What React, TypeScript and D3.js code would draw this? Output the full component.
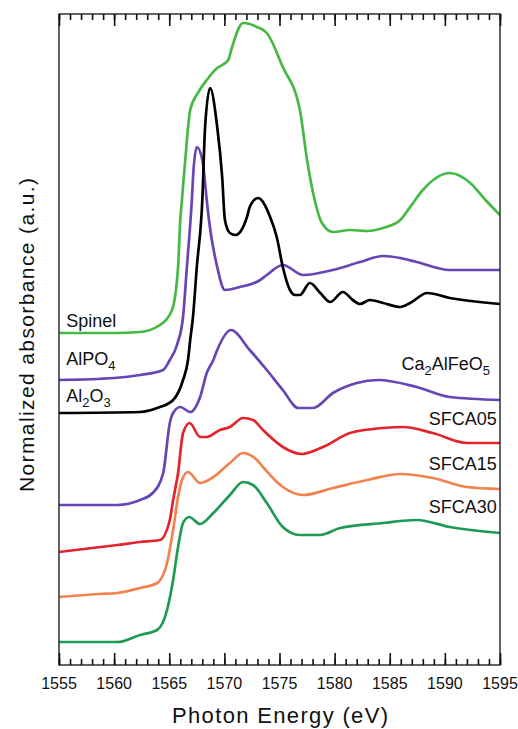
import React, { useEffect, useRef } from "react";
import * as d3 from "d3";

const W = 518;
const H = 729;
const M = { left: 59, right: 500, top: 14, bottom: 665 };

// [photon energy (eV), normalized absorbance (offset, a.u.)]
const spinel: [number, number][] = [
  [1555, 3.32], [1560, 3.32], [1562.35, 3.33], [1564.15, 3.4], [1565.25, 3.55],
  [1565.8, 3.98], [1566.0, 4.45], [1566.15, 4.65], [1566.45, 5.05], [1566.9, 5.55],
  [1567.6, 5.72], [1568.4, 5.85], [1569.35, 5.97], [1569.8, 6.0], [1570.35, 6.05],
  [1570.7, 6.18], [1571.7, 6.42], [1572.3, 6.41], [1572.95, 6.38], [1573.85, 6.32],
  [1575.3, 5.98], [1576.85, 5.55], [1577.5, 5.05], [1578.05, 4.72], [1578.85, 4.42],
  [1579.85, 4.33], [1581.4, 4.35], [1582.95, 4.34], [1584.4, 4.37], [1585.95, 4.45],
  [1586.85, 4.58], [1588.0, 4.75], [1590.45, 4.92], [1592.3, 4.82], [1593.6, 4.66], [1595, 4.5],
];

const alpo4: [number, number][] = [
  [1555, 2.85], [1560, 2.87], [1562.35, 2.9], [1564.45, 2.95], [1565.05, 3.05],
  [1565.7, 3.2], [1566.25, 3.48], [1566.6, 3.98], [1567.05, 4.65], [1567.2, 4.95],
  [1567.5, 5.18], [1568.0, 5.05], [1568.4, 4.65], [1568.6, 4.45], [1569.35, 3.98],
  [1570.05, 3.75], [1571.4, 3.78], [1573.25, 3.85], [1573.85, 3.9], [1575.3, 4.0],
  [1577.15, 3.9], [1579.85, 3.95], [1582.3, 4.03], [1584.4, 4.09], [1585.95, 4.07],
  [1587.45, 4.03], [1590.45, 3.95], [1595, 3.95],
];

const al2o3: [number, number][] = [
  [1555, 2.52], [1562.35, 2.53], [1563.9, 2.57], [1565.35, 2.65], [1566.25, 2.85],
  [1566.7, 3.05], [1566.9, 3.25], [1567.15, 3.48], [1567.5, 3.98], [1568.0, 4.65],
  [1568.25, 5.38], [1568.7, 5.77], [1569.35, 5.38], [1569.8, 4.88], [1570.05, 4.45],
  [1570.5, 4.32], [1571.0, 4.3], [1572.05, 4.48], [1572.3, 4.58], [1573.05, 4.67],
  [1574.15, 4.48], [1574.75, 4.28], [1575.3, 3.98], [1575.95, 3.75], [1576.4, 3.7],
  [1576.85, 3.7], [1577.75, 3.82], [1578.7, 3.72], [1579.6, 3.63], [1580.75, 3.73],
  [1581.65, 3.65], [1582.3, 3.61], [1583.2, 3.65], [1584.4, 3.62], [1585.95, 3.58],
  [1586.85, 3.62], [1588.4, 3.72], [1590.45, 3.67], [1595, 3.61],
];

const ca2alfeo5: [number, number][] = [
  [1555, 1.6], [1560.3, 1.6], [1562.35, 1.65], [1563.5, 1.72], [1564.45, 1.92],
  [1565.05, 2.42], [1565.35, 2.52], [1566.0, 2.58], [1566.9, 2.53], [1567.8, 2.68],
  [1568.4, 2.92], [1569.0, 3.05], [1569.35, 3.15], [1570.6, 3.35], [1572.3, 3.15],
  [1573.85, 2.95], [1575.3, 2.75], [1576.7, 2.57], [1578.05, 2.57], [1579.85, 2.72],
  [1582.0, 2.82], [1583.95, 2.85], [1587.45, 2.78], [1590.45, 2.68], [1595, 2.65],
];

const sfca05: [number, number][] = [
  [1555, 1.13], [1560.3, 1.2], [1562.35, 1.23], [1564.15, 1.25], [1565.05, 1.45],
  [1565.35, 1.65], [1565.8, 1.92], [1566.25, 2.32], [1566.85, 2.42], [1567.8, 2.28],
  [1568.4, 2.28], [1569.6, 2.35], [1570.5, 2.38], [1571.7, 2.47], [1572.6, 2.45],
  [1573.5, 2.35], [1575.3, 2.18], [1577.05, 2.11], [1578.95, 2.18], [1581.4, 2.32],
  [1584.4, 2.37], [1586.2, 2.38], [1588.9, 2.32], [1592.0, 2.22], [1595, 2.22],
];

const sfca15: [number, number][] = [
  [1555, 0.68], [1558.6, 0.71], [1560.3, 0.72], [1562.35, 0.77], [1563.9, 0.82],
  [1564.8, 1.02], [1565.35, 1.35], [1565.8, 1.68], [1566.15, 1.85], [1566.7, 1.93],
  [1567.8, 1.82], [1569.0, 1.88], [1570.5, 2.02], [1571.7, 2.12], [1572.95, 2.05],
  [1573.5, 1.98], [1575.3, 1.78], [1577.15, 1.7], [1579.85, 1.77], [1582.95, 1.85],
  [1585.95, 1.91], [1588.9, 1.87], [1592.0, 1.78], [1595, 1.76],
];

const sfca30: [number, number][] = [
  [1555, 0.23], [1560.3, 0.23], [1562.35, 0.3], [1563.9, 0.35], [1564.8, 0.55],
  [1565.35, 0.85], [1565.8, 1.18], [1566.25, 1.42], [1566.8, 1.48], [1567.8, 1.41],
  [1569.0, 1.52], [1570.5, 1.7], [1571.7, 1.83], [1572.6, 1.8], [1573.85, 1.62],
  [1575.3, 1.38], [1576.85, 1.3], [1578.7, 1.3], [1580.5, 1.37], [1584.4, 1.42],
  [1587.45, 1.45], [1590.45, 1.38], [1595, 1.32],
];

const series = [
  { data: spinel, color: "#46b945" },
  { data: alpo4, color: "#6845b4" },
  { data: al2o3, color: "#000000" },
  { data: ca2alfeo5, color: "#6845b4" },
  { data: sfca05, color: "#e3242d" },
  { data: sfca15, color: "#f2834e" },
  { data: sfca30, color: "#1f9a55" },
];

const majorTicks = [1555, 1560, 1565, 1570, 1575, 1580, 1585, 1590, 1595];
const minorTicks = d3.range(1555, 1596, 1);

const FONT = "'Liberation Sans', Arial, sans-serif";

const Sub = ({ t }: { t: string }) => (
  <tspan dy={5} fontSize={13}>{t}</tspan>
);

const App = () => {
  const axisRef = useRef<SVGGElement>(null);
  const x = d3.scaleLinear().domain([1555, 1595]).range([M.left, M.right]);
  const y = d3.scaleLinear().domain([0, 6.51]).range([M.bottom, M.top]);
  const line = d3
    .line<[number, number]>()
    .x((d) => x(d[0]))
    .y((d) => y(d[1]))
    .curve(d3.curveMonotoneX);

  useEffect(() => {
    const g = d3.select(axisRef.current);
    g.selectAll("*").remove();
    const bottom = (size: number, vals: number[]) =>
      d3.axisBottom(x).tickValues(vals).tickSize(-size).tickFormat(() => "");
    const top = (size: number, vals: number[]) =>
      d3.axisTop(x).tickValues(vals).tickSize(-size).tickFormat(() => "");
    [
      [bottom(6, minorTicks), M.bottom],
      [bottom(12, majorTicks), M.bottom],
      [top(6, minorTicks), M.top],
      [top(12, majorTicks), M.top],
    ].forEach(([ax, pos]: any) => {
      const a = g.append("g").attr("transform", `translate(0,${pos})`).call(ax);
      a.select(".domain").remove();
      a.selectAll("line").attr("stroke", "#111").attr("stroke-width", 1.6);
    });
  }, []);

  return (
    <svg width={W} height={H} style={{ position: "absolute", left: 0, top: 0 }} fontFamily={FONT}>
      <rect x={0} y={0} width={W} height={H} fill="#fff" />
      {series.map((s, i) => (
        <path key={i} d={line(s.data) || ""} fill="none" stroke={s.color} strokeWidth={2.7} strokeLinejoin="round" />
      ))}
      <rect x={M.left} y={M.top} width={M.right - M.left} height={M.bottom - M.top} fill="none" stroke="#222" strokeWidth={1.4} />
      <g ref={axisRef} />
      {majorTicks.map((t) => (
        <text key={t} x={x(t)} y={689} fontSize={16} textAnchor="middle" fill="#111">{t}</text>
      ))}
      <text x={280} y={723} fontSize={22} textAnchor="middle" textLength={216} lengthAdjust="spacing" fill="#111">
        Photon Energy (eV)
      </text>
      <text
        transform={`translate(34,335) rotate(-90)`}
        fontSize={21}
        textAnchor="middle"
        textLength={314}
        lengthAdjust="spacing"
        fill="#111"
      >
        Normalized absorbance (a.u.)
      </text>

      <g fontSize={18} fill="#111">
        <text x={x(1555.65)} y={y(3.38)}>Spinel</text>
        <text x={x(1555.65)} y={y(3.0)}>AlPO<Sub t="4" /></text>
        <text x={x(1555.65)} y={y(2.63)}>Al<Sub t="2" /><tspan dy={-5}>O</tspan><Sub t="3" /></text>
        <text x={x(1594.1)} y={y(2.95)} textAnchor="end">Ca<Sub t="2" /><tspan dy={-5}>AlFeO</tspan><Sub t="5" /></text>
        <text x={x(1594.7)} y={y(2.4)} textAnchor="end">SFCA05</text>
        <text x={x(1594.7)} y={y(1.95)} textAnchor="end">SFCA15</text>
        <text x={x(1594.7)} y={y(1.52)} textAnchor="end">SFCA30</text>
      </g>
    </svg>
  );
};

export default App;
